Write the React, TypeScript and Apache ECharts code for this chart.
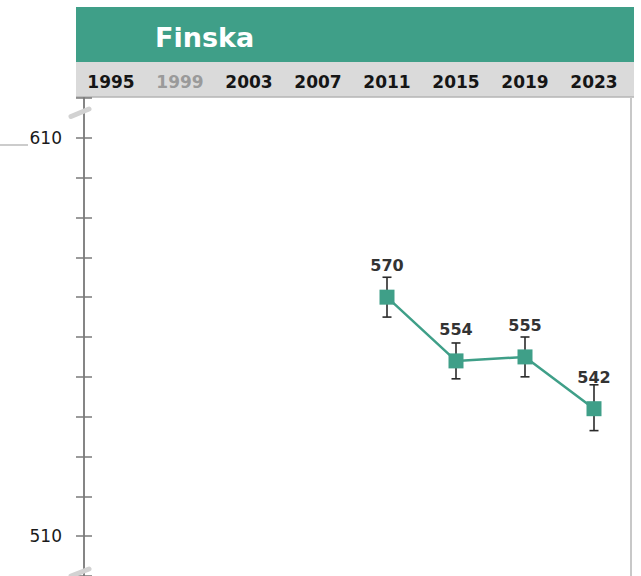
import React, { useEffect, useRef } from 'react';
import * as echarts from 'echarts';

const TITLE = 'Finska';
const YEARS = ['1995', '1999', '2003', '2007', '2011', '2015', '2019', '2023'];
const MUTED_YEARS = ['1999'];
const SCORES: (number | null)[] = [null, null, null, null, 570, 554, 555, 542];
const CI_LOW: (number | null)[] = [null, null, null, null, 565, 549.5, 550, 536.5];
const CI_HIGH: (number | null)[] = [null, null, null, null, 575, 558.5, 560, 548];
const Y_LABELS = [510, 610];
const Y_MIN = 500;
const Y_MAX = 620;
const Y_STEP = 10;

const FONT = 'DejaVu Sans';
const GREEN = '#3f9f88';

export default function App() {
  const ref = useRef<HTMLDivElement>(null);
  useEffect(() => {
    if (!ref.current) return;
    const chart = echarts.init(ref.current, undefined, { renderer: 'svg' });
    const gridLeft = 76.5;
    const gridWidth = 552;
    const axisX = 84;
    const errData = YEARS.map((_, i) =>
      CI_LOW[i] == null ? null : [i, CI_LOW[i], CI_HIGH[i]]
    ).filter((d) => d != null);

    chart.setOption({
      animation: false,
      title: {
        text: TITLE,
        left: 150,
        top: 19,
        textStyle: { color: '#ffffff', fontFamily: FONT, fontWeight: 'bold', fontSize: 27 },
      },
      grid: { left: gridLeft, top: 98, width: gridWidth, height: 484.8 },
      xAxis: {
        type: 'category',
        position: 'top',
        data: YEARS.map((y) =>
          MUTED_YEARS.includes(y) ? { value: y, textStyle: { color: '#9a9a9a' } } : y
        ),
        axisLine: { show: false },
        axisTick: { show: false },
        splitLine: { show: false },
        axisLabel: {
          margin: 8,
          fontFamily: FONT,
          fontWeight: 'bold',
          fontSize: 17,
          color: '#151515',
          interval: 0,
        },
      },
      yAxis: [
        {
          type: 'value',
          min: Y_MIN,
          max: Y_MAX,
          interval: Y_STEP,
          position: 'left',
          offset: -(axisX + 8 - gridLeft),
          axisLine: { show: false },
          axisTick: { show: true, inside: false, length: 16, lineStyle: { color: '#7a7a7a', width: 1.5 } },
          splitLine: { show: false },
          axisLabel: {
            margin: 30,
            fontFamily: FONT,
            fontSize: 17,
            color: '#1a1a1a',
            formatter: (v: number) => (Y_LABELS.includes(v) ? String(v) : ''),
          },
        },
        {
          type: 'value',
          min: Y_MIN,
          max: Y_MAX,
          interval: Y_STEP,
          position: 'right',
          offset: -(gridLeft + gridWidth - axisX),
          axisLine: { show: true, lineStyle: { color: '#858585', width: 2 } },
          axisTick: { show: false },
          axisLabel: { show: false },
          splitLine: { show: false },
        },
      ],
      graphic: [
        { type: 'rect', z: -10, shape: { x: 76, y: 7, width: 558, height: 55 }, style: { fill: GREEN } },
        { type: 'rect', z: -10, shape: { x: 76, y: 62, width: 558, height: 35 }, style: { fill: '#dadada' } },
        { type: 'line', z: -9, shape: { x1: 76, y1: 97, x2: 634, y2: 97 }, style: { stroke: '#b4b4b4', lineWidth: 1.5 } },
        { type: 'line', z: -9, shape: { x1: 631, y1: 97, x2: 631, y2: 576 }, style: { stroke: '#c8c8c8', lineWidth: 2 } },
        { type: 'line', z: -9, shape: { x1: 0, y1: 145, x2: 28, y2: 145 }, style: { stroke: '#999', lineWidth: 1 } },
        { type: 'line', z: 10, shape: { x1: 71, y1: 116.5, x2: 89, y2: 109 }, style: { stroke: '#d2d2d2', lineWidth: 5, lineCap: 'round' } },
        { type: 'line', z: 10, shape: { x1: 71, y1: 576, x2: 89, y2: 569 }, style: { stroke: '#d2d2d2', lineWidth: 5, lineCap: 'round' } },
      ],
      series: [
        {
          type: 'custom',
          z: 1,
          silent: true,
          data: errData,
          encode: { x: 0, y: [1, 2] },
          renderItem: (_p: any, api: any) => {
            const x = api.value(0);
            const lo = api.coord([x, api.value(1)]);
            const hi = api.coord([x, api.value(2)]);
            const w = 4.5;
            const style = { stroke: '#2a2a2a', lineWidth: 1.6 };
            return {
              type: 'group',
              children: [
                { type: 'line', shape: { x1: lo[0], y1: lo[1], x2: hi[0], y2: hi[1] }, style },
                { type: 'line', shape: { x1: lo[0] - w, y1: lo[1], x2: lo[0] + w, y2: lo[1] }, style },
                { type: 'line', shape: { x1: hi[0] - w, y1: hi[1], x2: hi[0] + w, y2: hi[1] }, style },
              ],
            };
          },
        },
        {
          type: 'line',
          z: 2,
          data: SCORES,
          connectNulls: false,
          symbol: 'rect',
          symbolSize: 15,
          lineStyle: { color: GREEN, width: 2.5 },
          itemStyle: { color: GREEN },
          label: {
            show: true,
            position: 'top',
            distance: 16,
            fontFamily: FONT,
            fontWeight: 'bold',
            fontSize: 16,
            color: '#333',
          },
        },
      ],
    });
    return () => chart.dispose();
  }, []);
  return (
    <div
      ref={ref}
      style={{ position: 'fixed', left: 0, top: 0, width: 641, height: 576, background: '#fff' }}
    />
  );
}
